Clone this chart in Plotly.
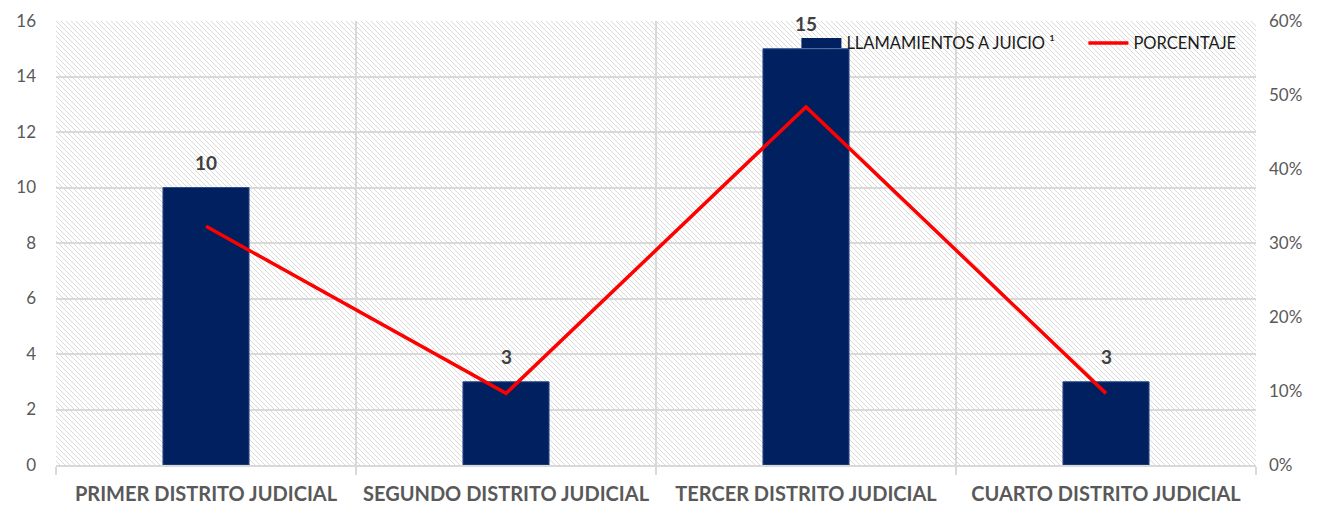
import plotly.graph_objects as go
import base64

categories = ["PRIMER DISTRITO JUDICIAL", "SEGUNDO DISTRITO JUDICIAL",
              "TERCER DISTRITO JUDICIAL", "CUARTO DISTRITO JUDICIAL"]
llamamientos = [10, 3, 15, 3]
porcentaje = [0.3226, 0.0968, 0.4839, 0.0968]
y_left_ticks = [0, 2, 4, 6, 8, 10, 12, 14, 16]
y_right_ticks = [0, 0.1, 0.2, 0.3, 0.4, 0.5, 0.6]
y_right_labels = ["0%", "10%", "20%", "30%", "40%", "50%", "60%"]

# page body has an 8px margin, so the figure is drawn at (8, 8)
W, H = 1303, 500
ML, MR, MT, MB = 48, 55, 13, 43
PW, PH = W - ML - MR, H - MT - MB

svg = f'''<svg xmlns="http://www.w3.org/2000/svg" width="{PW}" height="{PH}" viewBox="0 0 {PW} {PH}" preserveAspectRatio="none">
<defs><pattern id="p" width="5" height="5" patternUnits="userSpaceOnUse">
<path d="M-1,-1 L6,6 M-1,4 L1,6 M4,-1 L6,1" stroke="#DADADA" stroke-width="1"/></pattern></defs>
<rect width="{PW}" height="{PH}" fill="white"/><rect width="{PW}" height="{PH}" fill="url(#p)"/></svg>'''
uri = "data:image/svg+xml;base64," + base64.b64encode(svg.encode()).decode()

font = "Lato, 'Open Sans', sans-serif"

fig = go.Figure()
fig.add_trace(go.Bar(
    x=categories, y=llamamientos, name="LLAMAMIENTOS A JUICIO ¹", showlegend=False,
    marker=dict(color="#002060", line=dict(color="#2F4F8F", width=1)),
))
fig.add_trace(go.Scatter(
    x=[None], y=[None], name="LLAMAMIENTOS A JUICIO ¹", mode="lines",
    line=dict(color="#002060", width=10), hoverinfo="skip",
))
fig.add_trace(go.Scatter(
    x=categories, y=porcentaje, name="PORCENTAJE", yaxis="y2",
    mode="lines", line=dict(color="#FF0000", width=3.5),
))

for c, v in zip(categories, llamamientos):
    fig.add_annotation(x=c, y=v, text=f"<b>{v}</b>", showarrow=False, yanchor="bottom",
                       yshift=12, font=dict(family=font, size=19, color="#404040"))

fig.update_layout(
    width=W, height=H,
    margin=dict(l=ML, r=MR, t=MT, b=MB, autoexpand=False),
    paper_bgcolor="white", plot_bgcolor="rgba(0,0,0,0)",
    bargap=0.713,
    showlegend=True,
    legend=dict(orientation="h", x=0.617, y=0.95, xanchor="left", yanchor="middle",
                bgcolor="rgba(0,0,0,0)", font=dict(family=font, size=16.5, color="#1a1a1a"),
                traceorder="normal", itemwidth=40, entrywidth=232),
    images=[dict(source=uri, xref="paper", yref="paper", x=0, y=1, sizex=1, sizey=1,
                 xanchor="left", yanchor="top", sizing="stretch", layer="below")],
    xaxis=dict(tickson="boundaries", showgrid=True, gridcolor="#D9D9D9", gridwidth=1.5,
               ticks="outside", ticklen=8, tickcolor="#D9D9D9", tickwidth=1.5,
               showline=True, linecolor="#D9D9D9", linewidth=1.5, automargin=False,
               tickfont=dict(family=font, size=20, color="#595959", weight="bold"),
               tickangle=0, ticklabelstandoff=10, range=[-0.5, 3.5]),
    yaxis=dict(range=[0, 16], tickvals=y_left_ticks, showgrid=True, gridcolor="#D9D9D9",
               gridwidth=1.5, zeroline=False, automargin=False,
               tickfont=dict(family=font, size=17, color="#595959"), ticks="", ticklabelstandoff=19),
    yaxis2=dict(range=[0, 0.6], tickvals=y_right_ticks, ticktext=y_right_labels,
                overlaying="y", side="right", showgrid=False, zeroline=False, automargin=False,
                tickfont=dict(family=font, size=17, color="#595959"), ticklabelstandoff=12),
)

fig.write_html("out.html")
